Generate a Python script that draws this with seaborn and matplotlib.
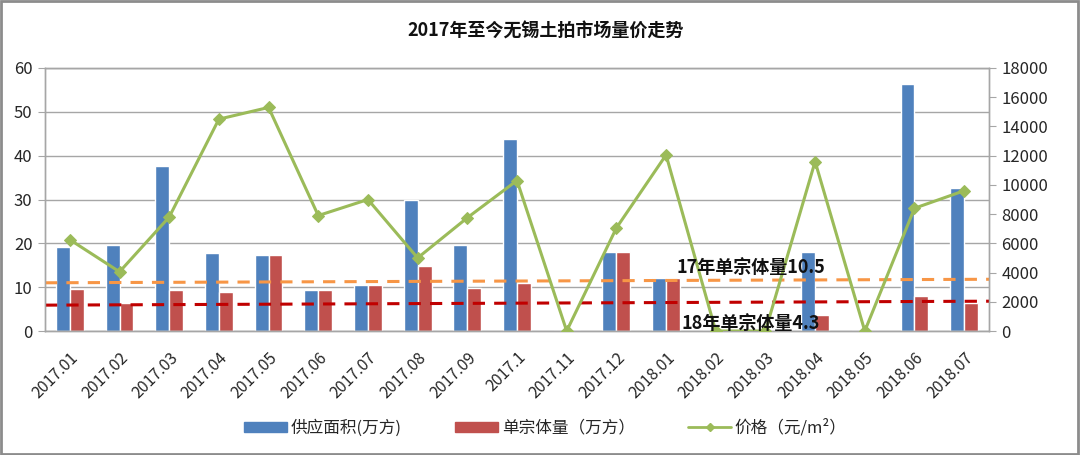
import matplotlib
matplotlib.use("Agg")
import numpy as np
import pandas as pd
import seaborn as sns
import matplotlib.pyplot as plt
import matplotlib.transforms as mtransforms
from matplotlib.patches import Patch, Rectangle
from matplotlib.lines import Line2D

# ---------------- data ----------------
months = ["2017.01", "2017.02", "2017.03", "2017.04", "2017.05", "2017.06", "2017.07",
          "2017.08", "2017.09", "2017.1", "2017.11", "2017.12", "2018.01", "2018.02",
          "2018.03", "2018.04", "2018.05", "2018.06", "2018.07"]
supply = [19.2, 19.7, 37.7, 17.8, 17.4, 9.3, 10.4, 29.9, 19.6, 43.8, 0, 18.0, 12.0, 0, 0, 18.0, 0, 56.4, 32.7]
single = [9.6, 6.5, 9.3, 8.8, 17.4, 9.3, 10.4, 14.9, 9.7, 10.9, 0, 18.0, 12.0, 0, 0, 3.6, 0, 7.9, 6.5]
price = [6250, 4050, 7800, 14500, 15300, 7900, 9000, 5000, 7750, 10300, 0, 7050, 12050, 0, 0, 11600, 0, 8400, 9600]
ref17 = [11.0, 11.8]   # dashed reference line, start/end
ref18 = [5.9, 6.8]
label_supply = "供应面积(万方)"
label_single = "单宗体量（万方）"
label_price = "价格（元/m²）"
title = "2017年至今无锡土拍市场量价走势"
note17 = "17年单宗体量10.5"
note18 = "18年单宗体量4.3"

# ---------------- style ----------------
sns.set_style("white")
plt.rcParams["font.family"] = ["Noto Sans CJK SC", "DejaVu Sans"]
plt.rcParams["axes.unicode_minus"] = False

BLUE = "#4F81BD"
RED = "#C0504D"
GREEN = "#9BBB59"
ORANGE = "#F79646"
DRED = "#C00000"
GRID = "#A6A6A6"
TXT = "#262626"

df = pd.DataFrame({
    "month": months * 2,
    "value": supply + single,
    "series": [label_supply] * len(months) + [label_single] * len(months),
})

fig = plt.figure(figsize=(10.8, 4.55), dpi=100)
ax = fig.add_axes([45 / 1080, 1 - 331 / 455, (989 - 45) / 1080, (331 - 68) / 455])

sns.barplot(data=df, x="month", y="value", hue="series", order=months,
            hue_order=[label_supply, label_single], palette=[BLUE, RED],
            width=0.56, gap=0, saturation=1, dodge=True, legend=False, ax=ax, zorder=2)

n = len(months)
ax.set_xlim(-0.5, n - 0.5)
ax.set_ylim(0, 60)
ax.set_yticks(np.arange(0, 61, 10))
ax.yaxis.grid(True, color=GRID, lw=1)
ax.set_axisbelow(True)
ax.set_xlabel("")
ax.set_ylabel("")

# reference dashed lines
xl = ax.get_xlim()
ax.plot(xl, ref17, ls=(0, (4, 3)), color=ORANGE, lw=2.2, zorder=3)
ax.plot(xl, ref18, ls=(0, (4, 3)), color=DRED, lw=2.2, zorder=3)

# x ticks
ax.set_xticks(np.arange(n))
ax.set_xticklabels(months, rotation=45, ha="right", rotation_mode="anchor", fontsize=11.5, color=TXT)
shift = mtransforms.ScaledTranslation(6 / 100, 0, fig.dpi_scale_trans)
for lbl in ax.get_xticklabels():
    lbl.set_transform(lbl.get_transform() + shift)
ax.set_xticks(np.arange(-0.5, n, 1), minor=True)
ax.tick_params(axis="x", which="major", length=0, pad=13)
ax.tick_params(axis="x", which="minor", length=5, color=GRID, width=1)
ax.tick_params(axis="y", length=5, color=GRID, labelsize=12, labelcolor=TXT, pad=4)

for s in ax.spines.values():
    s.set_color(GRID)
    s.set_linewidth(1)

# price line on secondary axis
ax2 = ax.twinx()
sns.lineplot(x=np.arange(n), y=price, ax=ax2, color=GREEN, lw=2.2, marker="D",
             markersize=6, markeredgecolor=GREEN, zorder=5)
ax2.set_ylim(0, 18000)
ax2.set_yticks(np.arange(0, 18001, 2000))
ax2.tick_params(axis="y", length=5, color=GRID, labelsize=12, labelcolor=TXT, pad=4)
for s in ax2.spines.values():
    s.set_color(GRID)
    s.set_linewidth(1)
ax2.set_xlim(-0.5, n - 0.5)

# annotations (drawn on top of the price line)
ax2.text(13.7, 14.6, note17, transform=ax.transData, ha="center", va="center",
         fontsize=13, fontweight="bold", color="#111111", zorder=10)
ax2.text(13.7, 1.8, note18, transform=ax.transData, ha="center", va="center",
         fontsize=13, fontweight="bold", color="#111111", zorder=10)

# title
fig.text(0.505, 1 - 31 / 455, title, ha="center", va="center", fontsize=13, fontweight="bold", color="#111111")

# legend
handles = [
    Patch(facecolor=BLUE, edgecolor=BLUE, label=label_supply),
    Patch(facecolor=RED, edgecolor=RED, label=label_single),
    Line2D([0], [0], color=GREEN, lw=2, marker="D", markersize=4, label=label_price),
]
fig.legend(handles=handles, loc="center", bbox_to_anchor=(0.505, 1 - 428 / 455), ncol=3,
           frameon=False, fontsize=12, handlelength=2.6, handleheight=0.6, columnspacing=3.2,
           handletextpad=0.2, labelcolor=TXT)

# figure border
fig.patches.append(Rectangle((0.001, 0.002), 0.997, 0.995, transform=fig.transFigure,
                             fill=False, edgecolor="#8C8C8C", lw=2))

fig.savefig("out.png", dpi=100)
